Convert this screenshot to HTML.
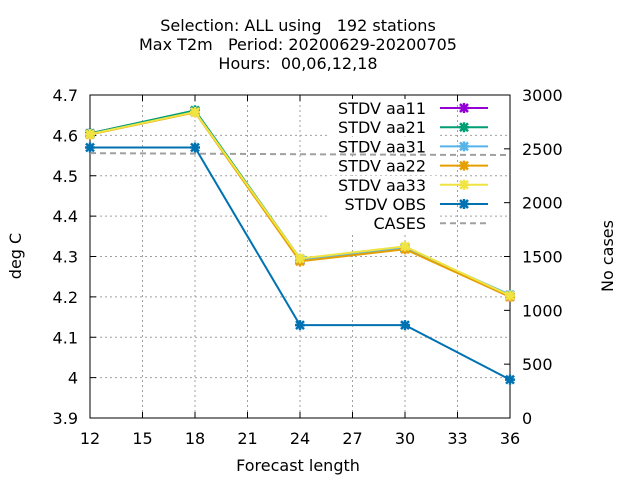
<!DOCTYPE html>
<html><head><meta charset="utf-8"><style>body{margin:0;background:#fff}svg{font-family:"DejaVu Sans",sans-serif}text{white-space:pre}</style></head>
<body>
<svg id="c" width="640" height="480" xmlns="http://www.w3.org/2000/svg"></svg>
<script>
const xs=[12,18,24,30,36];
const aa11=[4.605,4.66,4.29,4.32,4.20];
const aa21=[4.605,4.662,4.295,4.32,4.205];
const aa31=[4.603,4.658,4.292,4.322,4.205];
const aa22=[4.602,4.657,4.288,4.318,4.20];
const aa33=[4.603,4.658,4.295,4.325,4.203];
const obs=[4.57,4.57,4.13,4.13,3.995];
const cases=[2460,2455,2450,2445,2443];
const xTicks=[12,15,18,21,24,27,30,33,36];
const yTicks=[3.9,4,4.1,4.2,4.3,4.4,4.5,4.6,4.7];
const y2Ticks=[0,500,1000,1500,2000,2500,3000];
const L=90,R=510,T=95,B=418,FS=16;
const X=v=>L+(v-12)/24*(R-L), Y=v=>B-(v-3.9)/0.8*(B-T), Y2=v=>B-v/3000*(B-T);
const s=document.getElementById('c');const NS='http://www.w3.org/2000/svg';
function el(t,a,txt){const e=document.createElementNS(NS,t);for(const k in a)e.setAttribute(k,a[k]);if(txt!==undefined)e.textContent=txt;s.appendChild(e);return e;}
[["Selection: ALL using   192 stations",31],["Max T2m   Period: 20200629-20200705",50],["Hours:  00,06,12,18",69]].forEach((t,i)=>{const e=el('text',{x:298,y:t[1],'text-anchor':'middle','font-size':FS},t[0]);});
xTicks.forEach(v=>{const g=el('line',{x1:X(v),x2:X(v),y1:T,y2:B,stroke:'#a0a0a0','stroke-dasharray':'2,3'});
const t=el('text',{x:X(v),y:444,'text-anchor':'middle','font-size':FS},v);
el('line',{x1:X(v),x2:X(v),y1:B,y2:B-6,stroke:'#000'});el('line',{x1:X(v),x2:X(v),y1:T,y2:T+6,stroke:'#000'});});
yTicks.forEach(v=>{const g=el('line',{x1:L,x2:R,y1:Y(v),y2:Y(v),stroke:'#a0a0a0','stroke-dasharray':'2,3'});
const t=el('text',{x:78,y:Y(v)+6,'text-anchor':'end','font-size':FS},v);
el('line',{x1:L,x2:L+6,y1:Y(v),y2:Y(v),stroke:'#000'});});
y2Ticks.forEach(v=>{const t=el('text',{x:522,y:Y2(v)+6,'font-size':FS},v);
el('line',{x1:R,x2:R-6,y1:Y2(v),y2:Y2(v),stroke:'#000'});});
const fr=el('rect',{x:L,y:T,width:R-L,height:B-T,fill:'none',stroke:'#000'});
let t=el('text',{x:298,y:471,'text-anchor':'middle','font-size':FS},'Forecast length');
t=el('text',{x:21,y:256,'text-anchor':'middle','font-size':FS,transform:'rotate(-90 21 256)'},'deg C');
t=el('text',{x:613,y:256,'text-anchor':'middle','font-size':FS,transform:'rotate(-90 613 256)'},'No cases');
const series=[["STDV aa11",aa11,'#9400d3'],["STDV aa21",aa21,'#009e73'],["STDV aa31",aa31,'#56b4e9'],["STDV aa22",aa22,'#e69f00'],["STDV aa33",aa33,'#f0e442'],["STDV OBS",obs,'#0072b2']];
series.concat([["CASES"]]).forEach((sr,i)=>{const ly=108+i*19.2;el('rect',{x:330,y:ly-9,width:108,height:18,fill:'#fff'});
const tx=el('text',{x:426,y:ly+6,'text-anchor':'end','font-size':FS},sr[0]);});
const cp=el('polyline',{points:xs.map((x,i)=>X(x)+','+Y2(cases[i])).join(' '),fill:'none',stroke:'#a0a0a0','stroke-width':2,'stroke-dasharray':'6,4'});
function star(x,y,c){return el('path',{d:`M${x-4},${y-4}L${x+4},${y+4}M${x-4},${y+4}L${x+4},${y-4}M${x-5},${y}L${x+5},${y}M${x},${y-5}L${x},${y+5}`,stroke:c,'stroke-width':2.5});}
series.forEach((sr,i)=>{const p=el('polyline',{points:xs.map((x,j)=>X(x)+','+Y(sr[1][j])).join(' '),fill:'none',stroke:sr[2],'stroke-width':2});
xs.forEach((x,j)=>{const m=star(X(x),Y(sr[1][j]),sr[2]);});
const ly=108+i*19.2;const l=el('line',{x1:440,x2:488,y1:ly,y2:ly,stroke:sr[2],'stroke-width':2});star(464,ly,sr[2]);});
const ll=el('line',{x1:440,x2:488,y1:108+6*19.2,y2:108+6*19.2,stroke:'#a0a0a0','stroke-width':2,'stroke-dasharray':'6,4'});
</script>
</body></html>
